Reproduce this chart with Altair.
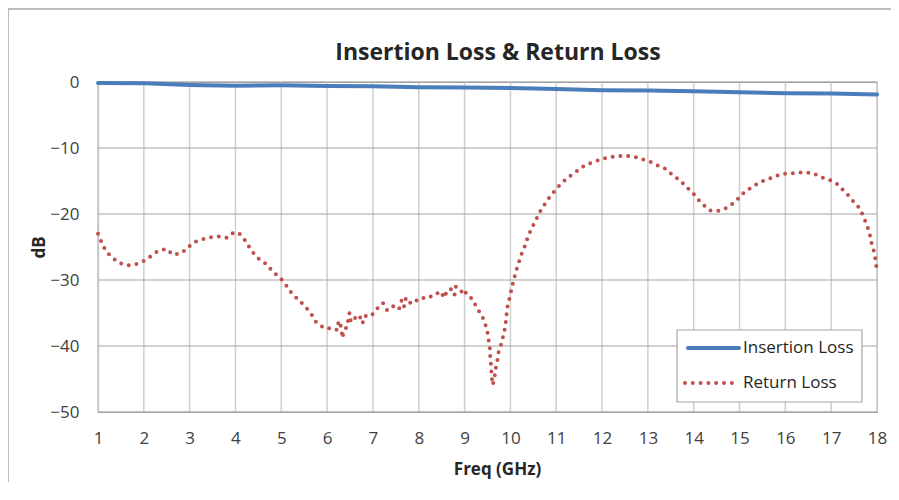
import altair as alt
import pandas as pd

# ---- data ----
il_freq = [1, 2, 3, 4, 5, 6, 7, 8, 9, 10, 11, 12, 13, 14, 15, 16, 17, 18]
il_db = [-0.15, -0.2, -0.45, -0.55, -0.5, -0.6, -0.65, -0.8, -0.85, -0.9, -1.05,
         -1.25, -1.3, -1.4, -1.55, -1.7, -1.75, -1.9]

rl_freq = [1.00, 1.08, 1.17, 1.31, 1.46, 1.64, 1.83, 2.00, 2.15, 2.31, 2.49, 2.64, 2.83,
           2.97, 3.12, 3.29, 3.47, 3.66, 3.81, 3.94, 4.06, 4.19, 4.30, 4.41, 4.54, 4.68,
           4.81, 4.96, 5.07, 5.17, 5.23, 5.28, 5.42, 5.53, 5.65, 5.75, 5.85, 5.93, 6.04,
           6.14, 6.22, 6.25, 6.28, 6.32, 6.33, 6.38, 6.45, 6.46, 6.49, 6.52, 6.62, 6.70,
           6.77, 6.83, 6.90, 6.98, 7.08, 7.22, 7.31, 7.39, 7.47, 7.57, 7.63, 7.68, 7.72,
           7.83, 7.94, 8.04, 8.14, 8.31, 8.47, 8.56, 8.62, 8.71, 8.78, 8.81, 8.90, 8.97,
           9.01, 9.06, 9.14, 9.20, 9.28, 9.37, 9.43, 9.49, 9.52, 9.55, 9.56, 9.58, 9.59,
           9.61, 9.65, 9.67, 9.71, 9.74, 9.80, 9.85, 9.89, 9.91, 9.93, 9.98, 10.02, 10.07,
           10.12, 10.18, 10.24, 10.32, 10.38, 10.46, 10.55, 10.64, 10.75, 10.86, 10.99,
           11.12, 11.27, 11.43, 11.59, 11.77, 11.95, 12.15, 12.33, 12.52, 12.70, 12.88,
           13.06, 13.23, 13.40, 13.54, 13.70, 13.84, 13.98, 14.11, 14.24, 14.37, 14.56,
           14.74, 14.88, 15.01, 15.13, 15.29, 15.43, 15.60, 15.77, 15.93, 16.10, 16.26,
           16.42, 16.60, 16.77, 16.95, 17.11, 17.25, 17.39, 17.52, 17.63, 17.71, 17.78,
           17.84, 17.88, 17.93, 17.97, 17.99]
rl_db = [-23.0, -24.3, -25.6, -26.6, -27.4, -27.8, -27.6, -27.1, -26.4, -25.6, -25.3, -26.2,
         -25.9, -25.0, -24.2, -23.8, -23.5, -23.4, -23.6, -22.9, -22.8, -23.8, -25.0, -26.1,
         -27.0, -27.6, -28.7, -29.6, -30.4, -31.5, -32.0, -32.4, -33.3, -34.1, -35.1, -36.3,
         -36.8, -37.3, -37.3, -37.3, -37.6, -36.2, -36.4, -37.7, -38.8, -37.5, -37.0, -35.6,
         -35.0, -36.4, -35.7, -35.3, -36.6, -35.4, -35.6, -35.3, -34.4, -33.5, -34.6, -34.1,
         -33.9, -34.4, -33.0, -34.0, -32.7, -33.6, -33.1, -33.1, -32.5, -32.5, -31.7, -32.7,
         -31.5, -31.4, -32.3, -31.0, -31.4, -32.1, -31.7, -32.4, -32.7, -33.3, -34.4, -35.2,
         -36.3, -37.5, -38.9, -40.2, -41.7, -43.1, -44.4, -45.9, -45.1, -43.7, -42.4, -41.0,
         -39.7, -38.3, -37.0, -35.6, -34.2, -32.8, -31.5, -30.1, -28.7, -27.4, -26.1, -24.8,
         -23.5, -22.2, -21.0, -19.7, -18.5, -17.4, -16.3, -15.3, -14.4, -13.6, -12.8, -12.2,
         -11.8, -11.4, -11.2, -11.2, -11.3, -11.7, -12.1, -12.7, -13.2, -14.1, -14.9, -15.9,
         -16.8, -17.9, -18.8, -19.5, -19.5, -19.0, -18.3, -17.4, -16.5, -15.9, -15.2, -14.8,
         -14.3, -13.9, -13.9, -13.7, -13.7, -13.8, -14.4, -14.8, -15.3, -16.3, -17.3, -18.4,
         -19.2, -20.5, -21.7, -23.0, -24.4, -25.6, -27.0, -28.3]

chart_title = "Insertion Loss & Return Loss"
series_names = ["Insertion Loss", "Return Loss"]
series_colors = ["#4a7ebb", "#c0504d"]
x_ticks = list(range(1, 19))
y_ticks = [-50, -40, -30, -20, -10, 0]

il_df = pd.DataFrame({"freq": il_freq, "db": il_db, "idx": range(len(il_freq))})
rl_df = pd.DataFrame({"freq": rl_freq, "db": rl_db, "idx": range(len(rl_freq))})

FONT = "Open Sans"
W, H = 779, 330
one = pd.DataFrame({"k": [0]})

x_scale = alt.Scale(domain=[1, 18], nice=False, zero=False)
y_scale = alt.Scale(domain=[-50, 0], nice=False, zero=False)
x_axis = alt.Axis(values=x_ticks, title="Freq (GHz)", format="d",
                  titleX=399, titleY=62, titleBaseline="alphabetic",
                  titleAnchor="middle", titleAlign="center")
y_axis = alt.Axis(values=y_ticks, title="dB",
                  titleX=-54, titleY=165, titleAngle=-90,
                  titleBaseline="alphabetic", titleAlign="center")
x_enc = alt.X("freq:Q", scale=x_scale, axis=x_axis)
y_enc = alt.Y("db:Q", scale=y_scale, axis=y_axis)

# vertical grid (lighter) and horizontal grid (darker) as in the reference
xgrid = alt.Chart(pd.DataFrame({"freq": x_ticks})).mark_rule(
    color="#cfcfcf", strokeWidth=1.5).encode(x=x_enc)
ygrid = alt.Chart(pd.DataFrame({"db": y_ticks})).mark_rule(
    color="#a3a3a3", strokeWidth=1.2).encode(y=y_enc)

il_line = alt.Chart(il_df).mark_line(
    color=series_colors[0], strokeWidth=4, strokeCap="round", strokeJoin="round"
).encode(x=x_enc, y=y_enc, order=alt.Order("idx:Q"))

rl_line = alt.Chart(rl_df).mark_line(
    color=series_colors[1], strokeWidth=4, strokeCap="round", strokeJoin="round",
    strokeDash=[0, 7.8]
).encode(x=x_enc, y=y_enc, order=alt.Order("idx:Q"))

# title as text
title_mark = alt.Chart(one).mark_text(
    text=chart_title, font=FONT, fontSize=23, fontWeight="bold", color="#262626",
    align="center", baseline="alphabetic"
).encode(x=alt.value(400), y=alt.value(-22))

# outer chart frame (decoration, cropped in the reference)
frame_left = alt.Chart(one).mark_rule(color="#a6a6a6", strokeWidth=1.5).encode(
    x=alt.value(-90), y=alt.value(-73), y2=alt.value(420))
frame_top = alt.Chart(one).mark_rule(color="#a6a6a6", strokeWidth=1.5).encode(
    x=alt.value(-90), x2=alt.value(810), y=alt.value(-73))

# legend (drawn manually to reproduce the dotted symbol)
leg_box = alt.Chart(one).mark_rect(fill="white", stroke="#a6a6a6", strokeWidth=1.2).encode(
    x=alt.value(579), x2=alt.value(764), y=alt.value(248), y2=alt.value(320))
leg_il = alt.Chart(one).mark_rule(color=series_colors[0], strokeWidth=4, strokeCap="round").encode(
    x=alt.value(590), x2=alt.value(641), y=alt.value(266))
leg_rl = alt.Chart(one).mark_rule(color=series_colors[1], strokeWidth=4, strokeCap="round",
                                  strokeDash=[0, 7.8]).encode(
    x=alt.value(587), x2=alt.value(640), y=alt.value(301))
leg_il_txt = alt.Chart(one).mark_text(
    text=series_names[0], font=FONT, fontSize=17, color="#262626", align="left", baseline="middle"
).encode(x=alt.value(645), y=alt.value(266))
leg_rl_txt = alt.Chart(one).mark_text(
    text=series_names[1], font=FONT, fontSize=17, color="#262626", align="left", baseline="middle"
).encode(x=alt.value(645), y=alt.value(301))

chart = alt.layer(
    frame_left, frame_top, xgrid, ygrid, il_line, rl_line, title_mark,
    leg_box, leg_il, leg_rl, leg_il_txt, leg_rl_txt
).properties(
    width=W, height=H,
    autosize=alt.AutoSizeParams(type="none"),
    padding={"left": 90, "top": 74, "right": 14, "bottom": 70},
).configure(
    font=FONT,
    background="white",
).configure_view(
    stroke="#a0a0a0", strokeWidth=1.2,
).configure_axis(
    grid=False,
    domain=True, domainColor="#a0a0a0", domainWidth=1.2,
    ticks=False,
    labelFont=FONT, labelFontSize=17, labelColor="#404040",
    titleFont=FONT, titleFontSize=17, titleFontWeight="bold", titleColor="#262626",
).configure_axisX(
    labelPadding=18, labelFlush=False,
).configure_axisY(
    labelPadding=19, labelBaseline="middle",
)

chart.save("out.html", embed_options={"renderer": "svg", "actions": False})
